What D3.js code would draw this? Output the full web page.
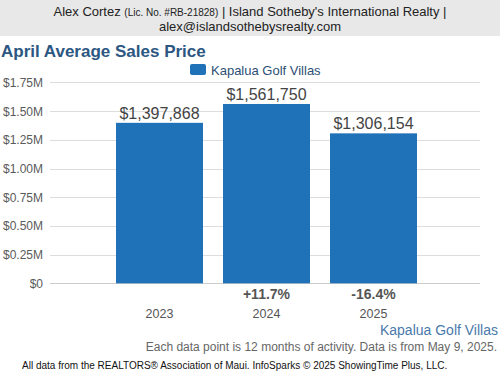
<!DOCTYPE html>
<html><head><meta charset="utf-8">
<script src="https://cdn.jsdelivr.net/npm/d3@7"></script>
<style>body{margin:0;background:#fff;}svg{display:block;font-family:Arial,"Liberation Sans",sans-serif;}</style>
</head><body>
<svg id="c" width="500" height="375"></svg>
<script>
const categories = ["2023", "2024", "2025"];
const values = [1397868, 1561750, 1306154];
const valueLabels = ["$1,397,868", "$1,561,750", "$1,306,154"];
const changeLabels = ["", "+11.7%", "-16.4%"];
const yTicks = [0, 250000, 500000, 750000, 1000000, 1250000, 1500000, 1750000];
const yTickLabels = ["$0", "$0.25M", "$0.50M", "$0.75M", "$1.00M", "$1.25M", "$1.50M", "$1.75M"];
const seriesName = "Kapalua Golf Villas";

const svg = d3.select("#c");
// header band
svg.append("rect").attr("x",0).attr("y",0).attr("width",500).attr("height",36).attr("fill","#e8e8e8");
const h1 = svg.append("text").attr("x",250).attr("y",16).attr("text-anchor","middle").attr("font-size",13).attr("fill","#222");
h1.append("tspan").text("Alex Cortez ");
h1.append("tspan").attr("font-size",10).text("(Lic. No. #RB-21828)");
h1.append("tspan").text(" | Island Sotheby's International Realty |");
svg.append("text").attr("x",250).attr("y",31).attr("text-anchor","middle").attr("font-size",13).attr("fill","#222").text("alex@islandsothebysrealty.com");

svg.append("text").attr("x",1).attr("y",57).attr("font-size",17).attr("font-weight","bold").attr("fill","#2c5782").text("April Average Sales Price");

// legend
svg.append("rect").attr("x",190).attr("y",64).attr("width",16).attr("height",11).attr("rx",2).attr("fill","#1f72b8");
svg.append("text").attr("x",211).attr("y",75).attr("font-size",13).attr("fill","#2c4f75").text(seriesName);

const y = d3.scaleLinear().domain([0,1750000]).range([283.3,82.4]);
const x = d3.scaleBand().domain(categories).range([106,427]).paddingInner(0.187).paddingOuter(0.0935);

// gridlines
svg.append("g").selectAll("line").data(yTicks).join("line")
  .attr("x1",50).attr("x2",480).attr("y1",d=>Math.round(y(d))+0.5).attr("y2",d=>Math.round(y(d))+0.5)
  .attr("stroke",(d)=>d===0?"#ccc":"#ddd").attr("stroke-width",1);
svg.append("g").selectAll("text").data(yTicks).join("text")
  .attr("x",43).attr("y",d=>y(d)+4.5).attr("text-anchor","end").attr("font-size",12).attr("fill","#5a5a5a")
  .text((d,i)=>yTickLabels[i]);

// bars
svg.append("g").selectAll("rect").data(values).join("rect")
  .attr("x",(d,i)=>x(categories[i])).attr("width",x.bandwidth())
  .attr("y",d=>y(d)).attr("height",d=>y(0)-y(d)).attr("fill","#1f72b8");

svg.append("g").selectAll("text").data(values).join("text")
  .attr("x",(d,i)=>x(categories[i])+x.bandwidth()/2).attr("y",d=>y(d)-4)
  .attr("text-anchor","middle").attr("font-size",16).attr("fill","#444")
  .text((d,i)=>valueLabels[i]);

svg.append("g").selectAll("text").data(changeLabels).join("text")
  .attr("x",(d,i)=>x(categories[i])+x.bandwidth()/2).attr("y",299)
  .attr("text-anchor","middle").attr("font-size",14).attr("font-weight","bold").attr("fill","#555")
  .text(d=>d);

svg.append("g").selectAll("text").data(categories).join("text")
  .attr("x",d=>x(d)+x.bandwidth()/2).attr("y",318)
  .attr("text-anchor","middle").attr("font-size",12.5).attr("fill","#555")
  .text(d=>d);

svg.append("text").attr("x",498).attr("y",335).attr("text-anchor","end").attr("font-size",14).attr("fill","#4a79ab").text(seriesName);
svg.append("text").attr("x",497).attr("y",351).attr("text-anchor","end").attr("font-size",12).attr("fill","#666").text("Each data point is 12 months of activity. Data is from May 9, 2025.");
svg.append("text").attr("x",22).attr("y",369).attr("font-size",10).attr("fill","#111").text("All data from the REALTORS® Association of Maui. InfoSparks © 2025 ShowingTime Plus, LLC.");
</script>
</body></html>
